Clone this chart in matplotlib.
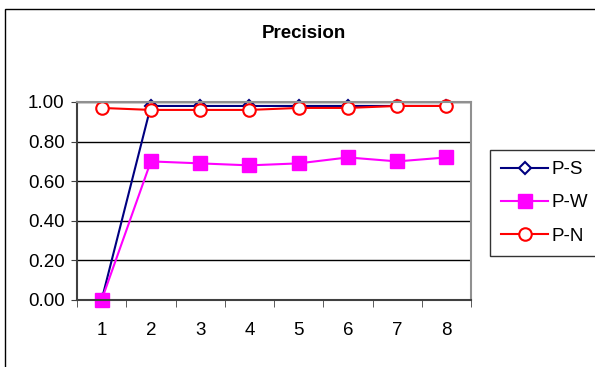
import matplotlib
matplotlib.use("Agg")
import matplotlib.pyplot as plt
from matplotlib.patches import Rectangle

plt.rcParams['font.family'] = ['Liberation Sans', 'DejaVu Sans']

# chart data
runs = [1, 2, 3, 4, 5, 6, 7, 8]
p_s = [0.00, 0.98, 0.98, 0.98, 0.98, 0.98, 0.98, 0.98]
p_w = [0.00, 0.70, 0.69, 0.68, 0.69, 0.72, 0.70, 0.72]
p_n = [0.97, 0.96, 0.96, 0.96, 0.97, 0.97, 0.98, 0.98]
y_ticks = [0.0, 0.2, 0.4, 0.6, 0.8, 1.0]

W, H = 595, 367
fig = plt.figure(figsize=(W / 100, H / 100), dpi=100)

# outer chart border (cut off at right and bottom)
fig.patches.append(Rectangle((5 / W, -0.1), 1.2, 1 - 9 / H + 0.1,
                             transform=fig.transFigure, fill=False,
                             edgecolor="black", linewidth=1))

ax = fig.add_axes([77 / W, 1 - 300 / H, (471 - 77) / W, (300 - 102) / H])

ax.plot(runs, p_s, color="#000080", linewidth=1.5, marker="D", markersize=6,
        markerfacecolor="white", markeredgecolor="#000080", markeredgewidth=1.5,
        label="P-S", clip_on=False)
ax.plot(runs, p_w, color="#FF00FF", linewidth=1.5, marker="s", markersize=9.5,
        markerfacecolor="#FF00FF", markeredgecolor="#FF00FF",
        label="P-W", clip_on=False)
ax.plot(runs, p_n, color="#FF0000", linewidth=1.5, marker="o", markersize=9,
        markerfacecolor="white", markeredgecolor="#FF0000", markeredgewidth=1.5,
        label="P-N", clip_on=False)

ax.set_xlim(0.5, 8.5)
ax.set_ylim(0, 1.0)
ax.set_yticks(y_ticks)
ax.set_yticklabels(["%.2f" % v for v in y_ticks], fontsize=13.5)
ax.set_xticks(runs)
ax.set_xticklabels([str(r) for r in runs], fontsize=13.5)
ax.set_xticks([r + 0.5 for r in range(0, 9)], minor=True)
ax.tick_params(axis="x", which="major", length=0, pad=16)
ax.tick_params(axis="x", which="minor", length=5, direction="out", color="#404040")
ax.tick_params(axis="y", length=4, direction="out", pad=5, color="#404040")

ax.grid(axis="y", color="black", linewidth=1)
ax.set_axisbelow(True)
ax.spines["left"].set_color("#404040")
ax.spines["bottom"].set_color("#404040")
ax.spines["top"].set_color("#909090")
ax.spines["right"].set_color("#909090")
for s in ax.spines.values():
    s.set_linewidth(1.5)

fig.text(304 / W, 1 - 34 / H, "Precision", ha="center", va="center",
         fontsize=13.5, fontweight="bold")

leg = fig.legend(loc="upper left", bbox_to_anchor=(490 / W, 1 - 150 / H),
                 fontsize=13.5, frameon=True, fancybox=False, borderpad=0.6,
                 handlelength=2.5, handletextpad=0.2, labelspacing=0.85,
                 borderaxespad=0)
leg.get_frame().set_edgecolor("black")
leg.get_frame().set_linewidth(1)

fig.savefig("out.png", dpi=100)
